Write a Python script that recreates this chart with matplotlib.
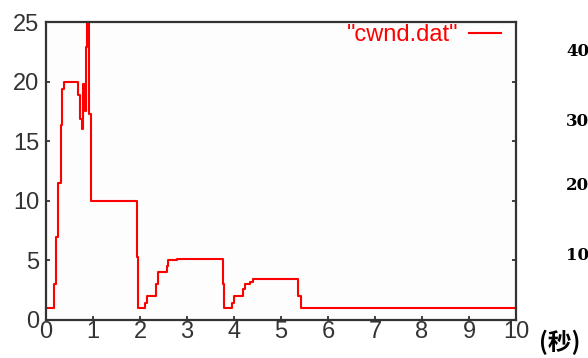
import matplotlib
matplotlib.use('Agg')
import matplotlib.pyplot as plt

# cwnd trace (step values, held until next time)
t = [0, 0.16, 0.21, 0.26, 0.31, 0.35, 0.39, 0.69, 0.72, 0.76, 0.78, 0.84, 0.845,
     0.88, 0.92, 0.95, 1.93, 1.96, 2.10, 2.14, 2.35, 2.39, 2.57, 2.60, 2.78, 3.76,
     3.79, 3.96, 4.00, 4.20, 4.23, 4.34, 4.40, 5.37, 5.42, 10]
cwnd = [1, 3, 7, 11.5, 16.4, 19.4, 20, 18.9, 16.9, 16, 19.8, 17.5, 22.9,
        25, 17.3, 10, 5.3, 1, 1.4, 2, 3, 4, 4.5, 5, 5.15, 3,
        1, 1.4, 2, 2.6, 3, 3.2, 3.4, 2, 1, 1]

xticks = list(range(0, 11))
yticks = [0, 5, 10, 15, 20, 25]
side_labels = ['40', '30', '20', '10']
side_y = [52, 121, 185, 255]

fig = plt.figure(figsize=(5.88, 3.58), dpi=100, facecolor='white')
ax = fig.add_axes([46/588, 38/358, 470/588, 298/358])
ax.set_facecolor('#fdfdfd')

ax.step(t, cwnd, where='post', color='red', lw=1.5, label='"cwnd.dat"', clip_on=False)
ax.set_xlim(0, 10)
ax.set_ylim(0, 25)
ax.set_xticks(xticks)
ax.set_yticks(yticks)

for s in ax.spines.values():
    s.set_color('#333333')
    s.set_linewidth(1.6)

ax.tick_params(direction='in', length=3, width=1.2, color='#222222',
               labelsize=17, labelcolor='#333333', right=True)
ax.tick_params(axis='x', pad=1)
ax.tick_params(axis='y', pad=5)
for lab in ax.get_xticklabels() + ax.get_yticklabels():
    lab.set_family('Liberation Sans')

leg = ax.legend(loc='upper right', frameon=False, markerfirst=False, handlelength=1.35,
                bbox_to_anchor=(1 - 13/470, 1), borderaxespad=0, borderpad=0.1,
                handletextpad=0.45,
                prop={'family': 'Liberation Sans', 'size': 17}, labelcolor='red')

# text from the surrounding page (cut off at the right edge)
for lab, yy in zip(side_labels, side_y):
    fig.text(566/588, 1 - yy/358, lab, ha='left', va='center', fontsize=12,
             fontweight='bold', family='DejaVu Serif', color='black')
fig.text(539/588, 1 - 342/358, '(秒)', ha='left', va='center', fontsize=17,
         fontweight='bold', family=['Noto Sans CJK SC', 'DejaVu Serif'], color='black')

fig.savefig('out.png', dpi=100, facecolor='white')
